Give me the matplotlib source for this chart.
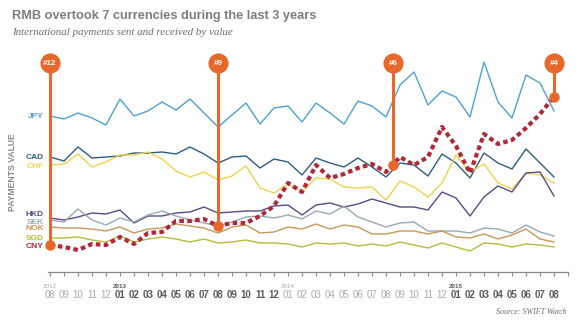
import numpy as np
from matplotlib import pyplot as plt

# months Aug 2012 .. Aug 2015
month_labels = ['08', '09', '10', '11', '12',
                '01', '02', '03', '04', '05', '06', '07', '08', '09', '10', '11', '12',
                '01', '02', '03', '04', '05', '06', '07', '08', '09', '10', '11', '12',
                '01', '02', '03', '04', '05', '06', '07', '08']
month_year = [2012] * 5 + [2013] * 12 + [2014] * 12 + [2015] * 8

# payments value (relative units)
jpy = [156, 153, 159, 154, 147, 173, 156, 161, 170, 162, 173, 159, 145, 157, 169, 148, 164, 166, 150,
       169, 159, 148, 171, 166, 155, 187, 200, 167, 181, 175, 155, 210, 170, 154, 197, 189, 161]
cad = [115, 111, 125, 114, 115, 116, 119, 119, 120, 118, 125, 118, 109, 115, 116, 104, 113, 110, 97,
       114, 109, 105, 114, 105, 95, 109, 107, 96, 118, 109, 94, 119, 109, 103, 123, 109, 95]
chf = [107, 108, 118, 105, 110, 117, 117, 120, 113, 101, 95, 100, 92, 96, 106, 84, 79, 88, 80,
       94, 93, 85, 84, 85, 72, 91, 85, 75, 89, 117, 100, 108, 89, 83, 99, 97, 89]
hkd = [54, 52, 55, 59, 58, 62, 49, 56, 56, 59, 60, 65, 59, 60, 61, 61, 66, 67, 57,
       67, 69, 65, 68, 73, 69, 65, 65, 62, 80, 74, 56, 75, 86, 80, 99, 100, 76]
sek = [52, 50, 63, 52, 47, 54, 50, 57, 61, 56, 52, 49, 46, 50, 55, 56, 54, 57, 53,
       61, 58, 66, 55, 50, 45, 49, 50, 41, 41, 41, 39, 44, 43, 39, 47, 40, 36]
nok = [45, 44, 44, 43, 41, 45, 39, 43, 44, 48, 46, 44, 39, 45, 47, 39, 40, 45, 43,
       48, 43, 47, 45, 38, 38, 41, 41, 38, 41, 35, 34, 38, 33, 37, 43, 33, 30]
sgd = [34, 34, 35, 32, 30, 36, 30, 33, 35, 33, 30, 33, 29, 30, 32, 29, 29, 28, 25,
       29, 28, 29, 26, 28, 26, 30, 27, 24, 29, 25, 21, 29, 28, 25, 28, 27, 25]
cny = [27, 25, 22, 28, 27, 35, 28, 39, 40, 51, 51, 53, 46, 49, 49, 56, 66, 89, 80,
       107, 94, 98, 104, 108, 100, 115, 107, 115, 145, 126, 99, 138, 128, 132, 144, 158, 175]

currencies = ['JPY', 'CAD', 'CHF', 'HKD', 'SEK', 'NOK', 'SGD']
series = [jpy, cad, chf, hkd, sek, nok, sgd]
colors = ['#4ea2cf', '#2d5e7e', '#eed44c', '#5a4a86', '#97a9b4', '#c99858', '#b9bb3a']
label_y = [156, 115, 106, 57, 50, 43, 33]

# RMB ranking milestones
rank_text = ['#12', '#9', '#6', '#4']
rank_pos = [0, 12, 24.5, 36]

cny_color = '#b0283a'
orange = '#e8672b'
grey_txt = '#7d7d7d'

fig = plt.figure(figsize=(5.79, 3.22), dpi=100)
ax = fig.add_axes([0, 0, 1, 1])
ax.set_xlim(-50 / 14, 529 / 14)
ax.set_ylim(-50, 272)
ax.axis('off')

x = np.arange(len(jpy))
for vals, col in zip(series, colors):
    ax.plot(x, vals, color=col, lw=1.0, zorder=2)
ax.plot(x, cny, color=cny_color, lw=3.0, dashes=(1.1, 0.8), zorder=3)

font = 'Liberation Sans'
for name, col, ly in zip(currencies + ['CNY'], colors + [cny_color], label_y + [25]):
    ax.text(-0.45, ly, name, color=col, ha='right', va='center', fontsize=6,
            fontweight='bold', family=font)

# milestones
for txt, p in zip(rank_text, rank_pos):
    yv = np.interp(p, x, cny)
    ax.plot([p, p], [yv, 209], color=orange, lw=2.2, zorder=5, solid_capstyle='butt')
    ax.plot(p, yv, 'o', color=orange, ms=6.5, zorder=6)
    ax.plot(p, 209, 'o', color=orange, ms=13.5, zorder=6)
    ax.text(p, 209, txt, color='white', ha='center', va='center', fontsize=5.8,
            fontweight='bold', family=font, zorder=7)

# time axis
ax.plot([-0.15, 37], [0, 0], color='#8a8a8a', lw=0.9)
ax.vlines(np.arange(38), -4, 0, color='#8a8a8a', lw=0.8)
for i, (lab, yr) in enumerate(zip(month_labels, month_year)):
    strong = yr in (2013, 2015)
    ax.text(i, -23, lab, ha='center', va='center', fontsize=7, family=font,
            color='#5a5a5a' if strong else '#ababab',
            fontweight='bold' if strong else 'normal')
for yr in (2012, 2013, 2014, 2015):
    i = month_year.index(yr)
    strong = yr in (2013, 2015)
    ax.text(i, -14, str(yr), ha='center', va='center', fontsize=4.5, family=font,
            color='#5a5a5a' if strong else '#ababab',
            fontweight='bold' if strong else 'normal')

fig.text(12 / 579, 1 - 19 / 322, 'RMB overtook 7 currencies during the last 3 years',
         ha='left', va='baseline', fontsize=9.2, fontweight='bold', color=grey_txt, family=font)
fig.text(12 / 579, 1 - 35 / 322, 'International payments sent and received by value',
         ha='left', va='baseline', fontsize=7.9, style='italic', color='#6e6e6e',
         family='Liberation Serif')
fig.text(567 / 579, 1 - 314 / 322, 'Source: SWIFT Watch', ha='right', va='baseline',
         fontsize=5.8, style='italic', color='#6e6e6e', family='Liberation Serif')
fig.text(13 / 579, 1 - 172 / 322, 'PAYMENTS VALUE', rotation=90, ha='center', va='center',
         fontsize=6.2, fontweight='bold', color='#8a8a8a', family=font)

fig.savefig('out.png', dpi=100)
